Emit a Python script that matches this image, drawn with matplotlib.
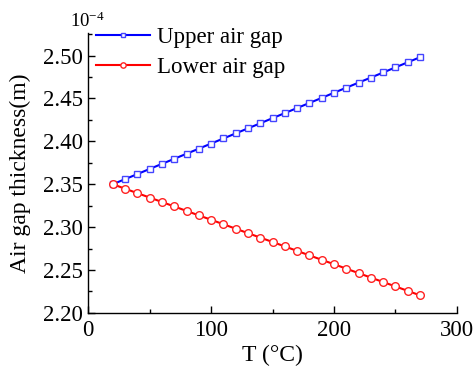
import matplotlib
matplotlib.use("Agg")
import matplotlib.pyplot as plt
from matplotlib.ticker import MultipleLocator, FormatStrFormatter

plt.rcParams['font.family'] = ['Liberation Serif', 'DejaVu Serif']
plt.rcParams['mathtext.fontset'] = 'custom'
plt.rcParams['mathtext.rm'] = 'Liberation Serif'
plt.rcParams['mathtext.it'] = 'Liberation Serif:italic'

temperature = [20, 30, 40, 50, 60, 70, 80, 90, 100, 110, 120, 130, 140, 150,
               160, 170, 180, 190, 200, 210, 220, 230, 240, 250, 260, 270]
upper_gap = [2.3500, 2.3559, 2.3618, 2.3678, 2.3737, 2.3796, 2.3855, 2.3914,
             2.3974, 2.4033, 2.4092, 2.4151, 2.4210, 2.4270, 2.4329, 2.4388,
             2.4447, 2.4506, 2.4566, 2.4625, 2.4684, 2.4743, 2.4802, 2.4862,
             2.4921, 2.4980]
lower_gap = [2.3500, 2.3448, 2.3396, 2.3345, 2.3293, 2.3241, 2.3189, 2.3137,
             2.3086, 2.3034, 2.2982, 2.2930, 2.2878, 2.2827, 2.2775, 2.2723,
             2.2671, 2.2619, 2.2568, 2.2516, 2.2464, 2.2412, 2.2360, 2.2309,
             2.2257, 2.2205]

fig = plt.figure(figsize=(4.74, 3.73), dpi=100)
ax = fig.add_axes([0.186, 0.161, 0.778, 0.750])

ax.plot(temperature, upper_gap, color='#0000ff', lw=1.5, marker='s', ms=5.0,
        mfc='white', mec='#4444ff', mew=1.0, label='Upper air gap')
ax.plot(temperature, lower_gap, color='#ff0000', lw=1.5, marker='o', ms=5.5,
        mfc='white', mec='#ff2222', mew=1.0, label='Lower air gap')

ax.set_xlim(0, 300)
ax.set_ylim(2.20, 2.526)
ax.xaxis.set_major_locator(MultipleLocator(100))
ax.xaxis.set_minor_locator(MultipleLocator(50))
ax.yaxis.set_major_locator(MultipleLocator(0.05))
ax.yaxis.set_minor_locator(MultipleLocator(0.025))
ax.yaxis.set_major_formatter(FormatStrFormatter('%.2f'))

for s in ['top', 'right']:
    ax.spines[s].set_visible(False)
for s in ['left', 'bottom']:
    ax.spines[s].set_linewidth(1.0)

ax.tick_params(which='major', direction='in', length=5, width=1, labelsize=16.5)
ax.tick_params(which='minor', direction='in', length=3, width=1)
ax.tick_params(axis='x', pad=5)
ax.tick_params(axis='y', pad=4)

ax.set_xlabel('T (\u00b0C)', fontsize=17, labelpad=3)
ax.set_ylabel('Air gap thickness(m)', fontsize=17, labelpad=8)

fig.text(0.147, 0.943, r'$10^{-4}$', fontsize=13.5, va='center', ha='left')

ax.legend(loc='upper left', bbox_to_anchor=(0.0, 1.05), frameon=False,
          fontsize=16.5, handlelength=2.35, handletextpad=0.3, borderaxespad=0.0,
          borderpad=0.35, labelspacing=0.4, markerscale=0.7)

fig.savefig('out.png', dpi=100)
